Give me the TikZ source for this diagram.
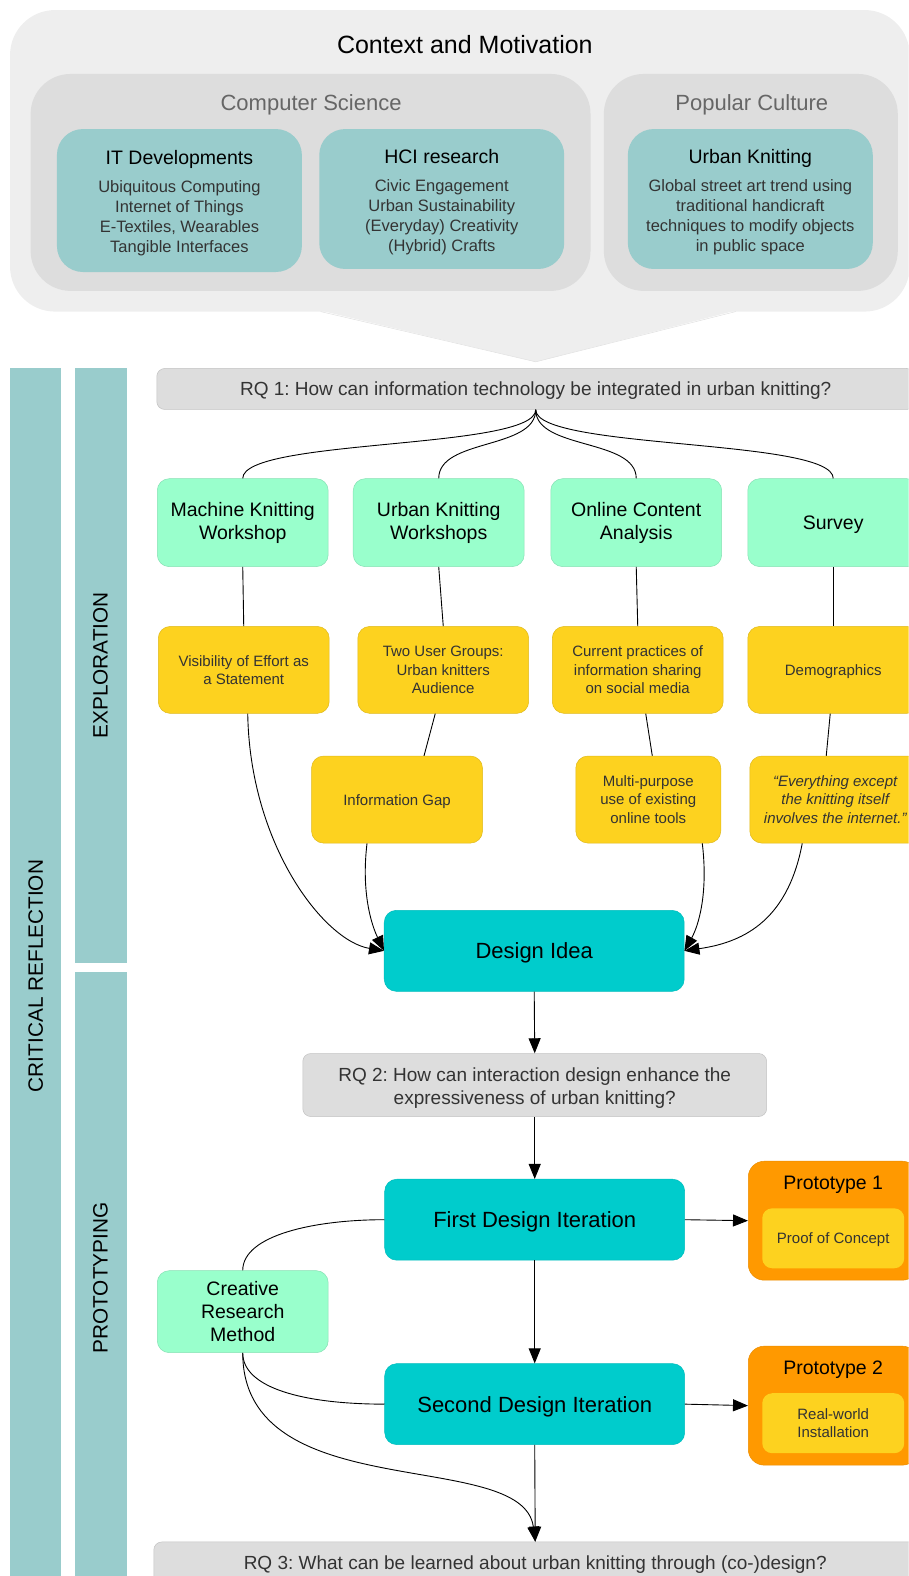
\documentclass[tikz,border=0pt]{standalone}
\usepackage{fontspec}
\setmainfont{Liberation Sans}
\usetikzlibrary{arrows.meta}

% Colores
\definecolor{fondo}{HTML}{EEEEEE}
\definecolor{gris}{HTML}{DDDDDD}
\definecolor{turquesa}{HTML}{99CCCC}
\definecolor{menta}{HTML}{99FFCC}
\definecolor{amarillo}{HTML}{FDD21F}
\definecolor{naranja}{HTML}{FF9900}
\definecolor{cian}{HTML}{00CCCC}
\definecolor{letra}{HTML}{333333}

\begin{document}
\frenchspacing
\begin{tikzpicture}[x=1.0053pt, y=-1.0053pt,
  grupo/.style={fill=gris, rounded corners=40pt},
  tarjeta/.style={fill=turquesa, rounded corners=26pt, minimum width=245pt, minimum height=141pt,
    align=center, text=letra, font=\fontsize{16.5}{20}\selectfont},
  metodo/.style={fill=menta, draw=menta!88!black, line width=0.5pt, rounded corners=12pt,
    minimum width=171pt, minimum height=88pt, align=center, font=\fontsize{19.5}{23}\selectfont},
  hallazgo/.style={fill=amarillo, draw=amarillo!88!black, line width=0.5pt, rounded corners=12pt,
    minimum width=171pt, minimum height=87pt, align=center, text=letra, font=\fontsize{15}{18.5}\selectfont},
  pregunta/.style={fill=gris, draw=gris!88!black, line width=0.5pt, rounded corners=8pt,
    align=center, text=letra, font=\fontsize{19}{23}\selectfont},
  diseno/.style={fill=cian, draw=cian!92!black, line width=0.5pt, rounded corners=12pt,
    minimum width=300pt, minimum height=81pt, font=\fontsize{22}{26}\selectfont},
  proto/.style={fill=naranja, draw=naranja!92!black, line width=0.5pt, rounded corners=16pt,
    minimum width=170pt, minimum height=119pt},
  franja/.style={fill=turquesa, rotate=90, inner sep=0pt, font=\fontsize{20.8}{24}\selectfont},
  una/.style={text depth=0pt},
  linea/.style={line width=0.9pt},
  flecha/.style={line width=0.9pt, -{Triangle[length=15pt,width=12pt]}}]

% Marco de la imagen (lo que sale de el se recorta)
\useasboundingbox (0,0) rectangle (904,1568);
\clip (0,0) rectangle (904,1568);

% Bloque superior: contexto y motivacion
% el pico de abajo es un triangulo del mismo color
\fill[fondo, rounded corners=45pt] (10,10) rectangle (905,310);
\fill[fondo] (319,309) -- (533,360) -- (732,309) -- cycle;
\draw[black!12, line width=0.5pt] (319,310) -- (533,360) -- (732,310);
\node[una, font=\fontsize{25}{30}\selectfont] (ctx) at (462.5,44.5) {Context and Motivation};

\node[grupo, minimum width=560pt, minimum height=217pt] (cs) at (309,181.5) {};
\node[grupo, minimum width=294pt, minimum height=217pt] (pc) at (747,181.5) {};
\node[una, text=black!60, font=\fontsize{22}{26}\selectfont] (cst) at (309.5,102.5) {Computer Science};
\node[una, text=black!60, font=\fontsize{22}{26}\selectfont] (pct) at (748,102.5) {Popular Culture};

% el \rule invisible baja un poco el texto dentro de la tarjeta
\node[tarjeta, minimum height=143pt] (itd) at (178.5,199.5)
  {\rule{0pt}{19.5pt}{\fontsize{19.5}{23}\selectfont\color{black}IT Developments}\\[8pt]
   Ubiquitous Computing\\ Internet of Things\\ E-Textiles, Wearables\\ Tangible Interfaces};
\node[tarjeta, minimum height=140pt] (hci) at (439.5,198)
  {\rule{0pt}{19.5pt}{\fontsize{19.5}{23}\selectfont\color{black}HCI research}\\[8pt]
   Civic Engagement\\ Urban Sustainability\\ (Everyday) Creativity\\ (Hybrid) Crafts};
\node[tarjeta, minimum height=140pt] (ukn) at (746.5,198)
  {\rule{0pt}{19.5pt}{\fontsize{19.5}{23}\selectfont\color{black}Urban Knitting}\\[8pt]
   Global street art trend using\\ traditional handicraft\\ techniques to modify objects\\ in public space};

% Franjas de la izquierda (texto girado 90 grados)
\node[franja, minimum width=1217pt, minimum height=51pt] (crit) at (35.5,971) {CRITICAL REFLECTION};
\node[franja, minimum width=595pt, minimum height=52pt] (expl) at (100,662) {EXPLORATION};
\node[franja, minimum width=612pt, minimum height=52pt] (prot) at (100,1271.5) {PROTOTYPING};

% Exploracion
\node[pregunta, una, minimum width=758pt, minimum height=41pt] (rqa) at (533,387)
  {RQ 1: How can information technology be integrated in urban knitting?};

\node[metodo] (mkw) at (241.5,520) {Machine Knitting\\ Workshop};
\node[metodo] (ukw) at (436.5,520) {Urban Knitting\\ Workshops};
\node[metodo] (oca) at (633,520) {Online Content\\ Analysis};
\node[metodo, una] (srv) at (829,520) {Survey};

\node[hallazgo] (vis) at (242.5,666.5) {Visibility of Effort as\\ a Statement};
\node[hallazgo] (tug) at (441,666.5) {Two User Groups:\\ Urban knitters\\ Audience};
\node[hallazgo] (cur) at (634.5,666.5) {Current practices of\\ information sharing\\ on social media};
\node[hallazgo, una] (dem) at (829,666.5) {Demographics};

\node[hallazgo, una] (gap) at (395,795.5) {Information Gap};
\node[hallazgo, minimum width=145pt] (mul) at (645,795.5) {Multi-purpose\\ use of existing\\ online tools};
\node[hallazgo, font=\fontsize{15}{18.5}\selectfont\itshape] (qte) at (831,795.5)
  {“Everything except\\ the knitting itself\\ involves the internet.”};

\node[diseno, una] (idea) at (531.5,946) {Design Idea};

% Llaves desde la pregunta 1 (curvas en S)
\foreach \m in {mkw,ukw,oca,srv}
  \draw[linea] (rqa.south) .. controls +(0,40) and +(0,-40) .. (\m.north);

\draw[linea] (mkw.south) -- (vis.north);
\draw[linea] (ukw.south) -- (tug.north);
\draw[linea] (oca.south) -- (cur.north);
\draw[linea] (srv.south) -- (dem.north);
\draw[linea] ([xshift=-8pt]tug.south) -- ([xshift=27pt]gap.north);
\draw[linea] ([xshift=8pt]cur.south) -- ([xshift=4pt]mul.north);
\draw[linea] ([xshift=-3pt]dem.south) -- ([xshift=-9pt]qte.north);

% Flechas hacia la idea de diseno
\draw[flecha] ([xshift=4pt]vis.south) .. controls +(2,130) and +(-60,-10) .. (idea.west);
\draw[flecha] ([xshift=-30pt]gap.south) .. controls +(-6,50) and +(-12,-25) .. (idea.west);
\draw[flecha] ([xshift=54pt]mul.south) .. controls +(6,50) and +(14,-25) .. (idea.east);
\draw[flecha] ([xshift=-33pt]qte.south) .. controls +(-15,80) and +(55,-8) .. (idea.east);

% Prototipado
\node[pregunta, minimum width=464pt, minimum height=63pt] (rqb) at (532,1079.5)
  {\rule{0pt}{20pt}RQ 2: How can interaction design enhance the\\ expressiveness of urban knitting?};
\node[diseno, una] (fst) at (532,1213.5) {First Design Iteration};
\node[diseno, una] (snd) at (532,1397) {Second Design Iteration};
\node[metodo, minimum height=82pt] (crm) at (241.5,1305) {Creative\\ Research\\ Method};

\node[proto] (pt1) at (829,1214.5) {};
\node[una, font=\fontsize{19.5}{23}\selectfont] (pt1t) at (829,1177) {Prototype 1};
\node[hallazgo, una, draw=none, rounded corners=10pt, minimum width=142pt, minimum height=60pt] (poc) at (829,1232) {Proof of Concept};
\node[proto] (pt2) at (829,1398.5) {};
\node[una, font=\fontsize{19.5}{23}\selectfont] (pt2t) at (829,1361) {Prototype 2};
\node[hallazgo, draw=none, rounded corners=10pt, minimum width=142pt, minimum height=60pt] (rwi) at (829,1416) {Real-world\\ Installation};

\node[pregunta, una, minimum width=763pt, minimum height=42pt] (rqc) at (532.5,1555)
  {RQ 3: What can be learned about urban knitting through (co-)design?};

\draw[flecha] (idea.south) -- (rqb.north);
\draw[flecha] (rqb.south) -- (fst.north);
\draw[flecha] (fst.east) -- (pt1.west);
\draw[flecha] (fst.south) -- (snd.north);
\draw[flecha] (snd.east) -- (pt2.west);
\draw[flecha] (snd.south) -- (rqc.north);

% Metodo creativo: curvas hacia las iteraciones
\draw[linea] (crm.north) .. controls +(0,-35) and +(-70,0) .. (fst.west);
\draw[linea] (crm.south) .. controls +(0,35) and +(-80,0) .. (snd.west);
\draw[flecha] (crm.south) .. controls +(0,155) and +(-12,-95) .. (rqc.north);
\end{tikzpicture}
\end{document}
